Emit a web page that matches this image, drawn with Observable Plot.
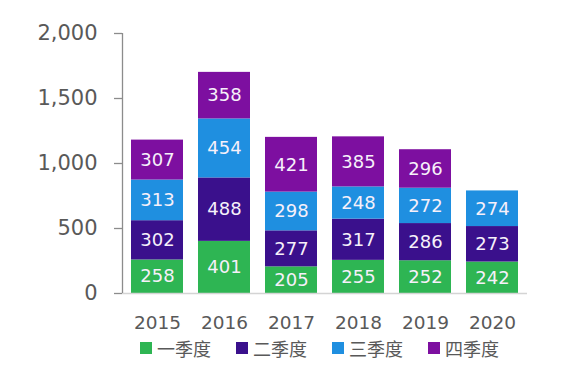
<!DOCTYPE html>
<html>
<head>
<meta charset="utf-8">
<script src="https://cdn.jsdelivr.net/npm/d3@7"></script>
<script src="https://cdn.jsdelivr.net/npm/@observablehq/plot@0.6"></script>
<style>
  body { margin: 0; background: #fff; }
  #legend { display: flex; margin-left: 140px; margin-top: 0px; font-family: "DejaVu Sans", "Noto Sans CJK SC", sans-serif; font-size: 18px; color: #595959; }
  #legend .item { display: flex; align-items: center; margin-right: 25px; }
  #legend .sw { width: 12px; height: 12px; margin-right: 5px; }
</style>
</head>
<body>
<div id="chart"></div>
<div id="legend"></div>
<script>
const years = ["2015", "2016", "2017", "2018", "2019", "2020"];
const quarters = ["一季度", "二季度", "三季度", "四季度"];
const q1 = [258, 401, 205, 255, 252, 242];
const q2 = [302, 488, 277, 317, 286, 273];
const q3 = [313, 454, 298, 248, 272, 274];
const q4 = [307, 358, 421, 385, 296, null];
const colors = ["#2eb553", "#3a108c", "#1f8fe0", "#7d0fa0"];
const yTicks = [0, 500, 1000, 1500, 2000];

const series = [q1, q2, q3, q4];
const data = [];
series.forEach((s, qi) => s.forEach((v, yi) => {
  if (v != null) data.push({year: years[yi], quarter: quarters[qi], value: v});
}));

const chart = Plot.plot({
  width: 561,
  height: 335,
  marginLeft: 122,
  marginRight: 34,
  marginTop: 33,
  marginBottom: 42,
  style: {fontFamily: "DejaVu Sans, sans-serif", background: "#fff"},
  x: {domain: years, paddingInner: 0.23, paddingOuter: 0.12, label: null},
  y: {domain: [0, 2000], ticks: yTicks, label: null},
  color: {domain: quarters, range: colors},
  marks: [
    Plot.barY(data, {x: "year", y: "value", fill: "quarter"}),
    Plot.text(data, Plot.stackY({x: "year", y: "value", text: d => String(d.value), fill: "#f6f0fa", fontSize: 18})),
    Plot.ruleY([0], {stroke: "#d4d4d4", strokeWidth: 1.5}),
    Plot.axisY({ticks: yTicks, tickSize: 8, tickPadding: 17, tickFormat: d3.format(","), fontSize: 21, color: "#595959", stroke: "#8c8c8c", strokeWidth: 1.3, label: null}),
    Plot.axisX({tickSize: 0, tickPadding: 22, fontSize: 18.5, color: "#595959", label: null})
  ]
});
document.getElementById("chart").appendChild(chart);

// y-axis vertical line, positioned with the chart's own y scale
const ys = chart.scale("y");
d3.select(chart).append("line")
  .attr("x1", 122.5).attr("x2", 122.5)
  .attr("y1", ys.apply(0)).attr("y2", ys.apply(2000))
  .attr("stroke", "#8c8c8c").attr("stroke-width", 1.3);

const legend = document.getElementById("legend");
quarters.forEach((q, i) => {
  const item = document.createElement("div");
  item.className = "item";
  const sw = document.createElement("div");
  sw.className = "sw";
  sw.style.background = colors[i];
  const t = document.createElement("span");
  t.textContent = q;
  item.appendChild(sw);
  item.appendChild(t);
  legend.appendChild(item);
});
</script>
</body>
</html>
